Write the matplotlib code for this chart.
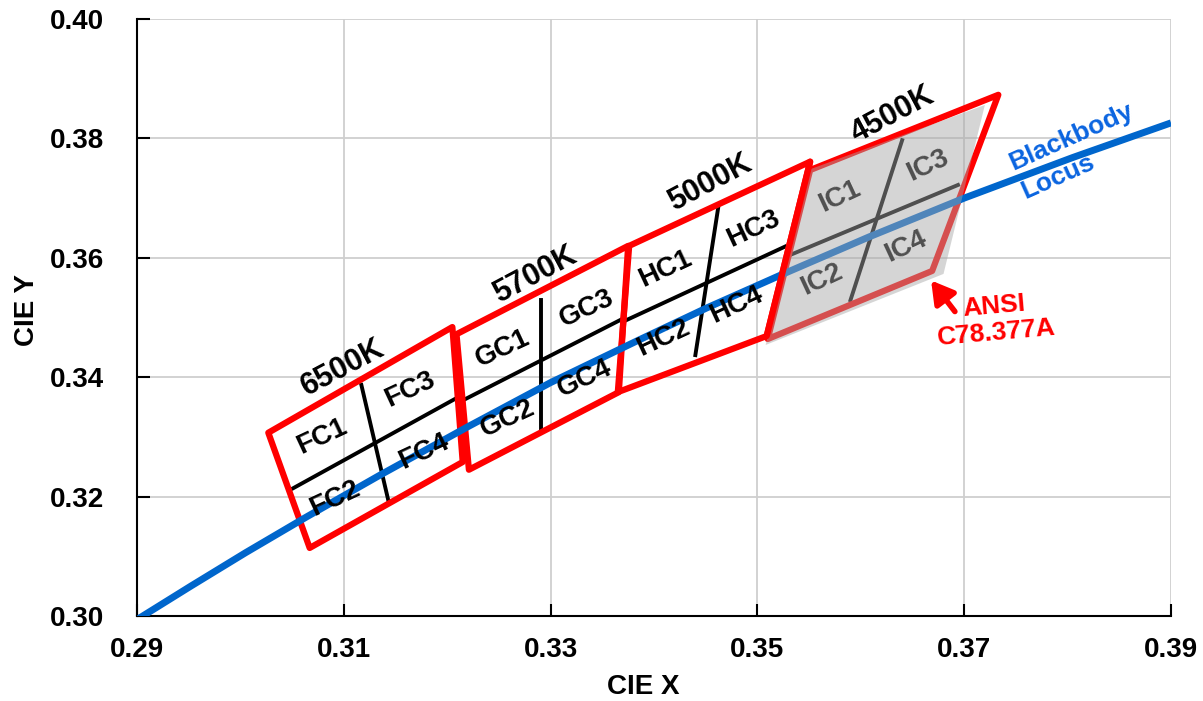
import matplotlib
matplotlib.use("Agg")
import matplotlib.pyplot as plt
from matplotlib.patches import Polygon

plt.rcParams['font.family'] = ['Liberation Sans', 'DejaVu Sans']
plt.rcParams['font.weight'] = 'bold'

# quadrangle corners: top-left, top-right, bottom-right, bottom-left
cct_names = ['6500K', '5700K', '5000K', '4500K']
quad_x = [[0.3027, 0.3205, 0.3215, 0.3067],
          [0.3209, 0.3375, 0.3366, 0.3221],
          [0.3376, 0.3551, 0.3509, 0.3365],
          [0.3551, 0.3733, 0.3669, 0.3510]]
quad_y = [[0.3307, 0.3484, 0.3258, 0.3114],
          [0.3472, 0.3620, 0.3375, 0.3245],
          [0.3620, 0.3761, 0.3469, 0.3375],
          [0.3747, 0.3873, 0.3578, 0.3464]]

# dividers inside each quadrangle
h_x = [[0.3051, 0.3209], [0.3216, 0.3371], [0.3370, 0.3527], [0.3532, 0.3694]]
h_y = [[0.3214, 0.3365], [0.3362, 0.3499], [0.3493, 0.3619], [0.3605, 0.3722]]
v_x = [[0.3117, 0.3143], [0.3291, 0.3291], [0.3462, 0.3440], [0.3640, 0.3590]]
v_y = [[0.3387, 0.3194], [0.3529, 0.3314], [0.3683, 0.3437], [0.3797, 0.3529]]

# shaded 4500K area
gray_x = [0.3549, 0.3720, 0.3680, 0.3508]
gray_y = [0.3747, 0.3856, 0.3573, 0.3454]

# blackbody locus
locus_x = [0.2900, 0.2952, 0.3005, 0.3064, 0.3135, 0.3221, 0.3300, 0.3385,
           0.3451, 0.3525, 0.3608, 0.3700, 0.3805, 0.3900]
locus_y = [0.2994, 0.3050, 0.3106, 0.3166, 0.3236, 0.3318, 0.3391, 0.3462,
           0.3516, 0.3573, 0.3635, 0.3700, 0.3768, 0.3826]

# labels
cct_lx = [0.3099, 0.3285, 0.3454, 0.3631]
cct_ly = [0.3415, 0.3571, 0.3725, 0.3839]
bin_names = [['FC1', 'FC2', 'FC3', 'FC4'],
             ['GC1', 'GC2', 'GC3', 'GC4'],
             ['HC1', 'HC2', 'HC3', 'HC4'],
             ['IC1', 'IC2', 'IC3', 'IC4']]
bin_x = [[0.3079, 0.3091, 0.3164, 0.3177],
         [0.3254, 0.3259, 0.3335, 0.3333],
         [0.3411, 0.3409, 0.3496, 0.3480],
         [0.3580, 0.3562, 0.3665, 0.3643]]
bin_y = [[0.3300, 0.3197, 0.3379, 0.3275],
         [0.3448, 0.3331, 0.3515, 0.3398],
         [0.3582, 0.3465, 0.3649, 0.3521],
         [0.3702, 0.3563, 0.3755, 0.3619]]

xticks = [0.29, 0.31, 0.33, 0.35, 0.37, 0.39]
yticks = [0.30, 0.32, 0.34, 0.36, 0.38, 0.40]

RED = '#FF0000'
BLUE = '#0066CC'

fig = plt.figure(figsize=(12.03, 7.01), dpi=100)
ax = fig.add_axes([137/1203, 1-616/701, 1034/1203, 597/701])
ax.set_xlim(0.29, 0.39)
ax.set_ylim(0.30, 0.40)

ax.set_xticks(xticks)
ax.set_xticklabels(['%.2f' % t for t in xticks])
ax.set_yticks(yticks)
ax.set_yticklabels(['%.2f' % t for t in yticks])
ax.tick_params(direction='in', length=9, width=1.5, labelsize=20, color='black')
ax.tick_params(axis='y', pad=24)
ax.tick_params(axis='x', pad=15)
ax.grid(True, color='#CFCFCF', lw=1.3, zorder=0)
ax.set_axisbelow(True)
for s in ['top', 'right']:
    ax.spines[s].set_visible(False)
for s in ['left', 'bottom']:
    ax.spines[s].set_linewidth(1.5)

ax.set_xlabel('CIE X', fontsize=20, fontweight='bold')
ax.xaxis.set_label_coords(0.49, -0.097)
ax.set_ylabel('CIE Y', fontsize=20, fontweight='bold')
ax.yaxis.set_label_coords(-0.106, 0.513)
ax.yaxis.label.set_va('center')

for i in range(4):
    ax.plot(h_x[i], h_y[i], color='black', lw=2.8, zorder=2)
    ax.plot(v_x[i], v_y[i], color='black', lw=2.8, zorder=2)
    poly = Polygon(list(zip(quad_x[i], quad_y[i])), closed=True, fill=False,
                   edgecolor=RED, lw=4.5, joinstyle='round', zorder=3)
    ax.add_patch(poly)
    ax.text(cct_lx[i], cct_ly[i], cct_names[i], fontsize=22, fontweight='bold',
            rotation=28, ha='center', va='center', rotation_mode='anchor', zorder=8)
    for j in range(4):
        ax.text(bin_x[i][j], bin_y[i][j], bin_names[i][j], fontsize=20,
                fontweight='bold', rotation=25, ha='center', va='center',
                rotation_mode='anchor', zorder=5)

ax.plot(locus_x, locus_y, color=BLUE, lw=5, zorder=4, solid_capstyle='butt')

# shaded overlay on the 4500K quadrangle
ax.add_patch(Polygon(list(zip(gray_x, gray_y)), closed=True, facecolor='#A8A8A8',
                     edgecolor='none', alpha=0.475, zorder=6))
# the 5000K right edge stays on top
ax.plot(quad_x[2][1:3], quad_y[2][1:3], color=RED, lw=4.5, zorder=7,
        solid_capstyle='round')

ax.text(0.3804, 0.3803, 'Blackbody', color='#0A64E0', fontsize=19, fontweight='bold',
        rotation=24, ha='center', va='center', rotation_mode='anchor', zorder=8)
ax.text(0.3791, 0.3736, 'Locus', color='#0A64E0', fontsize=19, fontweight='bold',
        rotation=24, ha='center', va='center', rotation_mode='anchor', zorder=8)

ax.annotate('', xy=(0.3668, 0.3562), xytext=(0.3691, 0.3510),
            arrowprops=dict(arrowstyle='-|>,head_length=0.6,head_width=0.35',
                            color=RED, lw=4, mutation_scale=22,
                            shrinkA=0, shrinkB=0),
            zorder=8)
ax.text(0.3730, 0.3496, 'ANSI\nC78.377A', color=RED, fontsize=19, fontweight='bold',
        rotation=5, ha='center', va='center', multialignment='center',
        linespacing=1.15, rotation_mode='anchor', zorder=8)

fig.savefig('out.png', dpi=100)
